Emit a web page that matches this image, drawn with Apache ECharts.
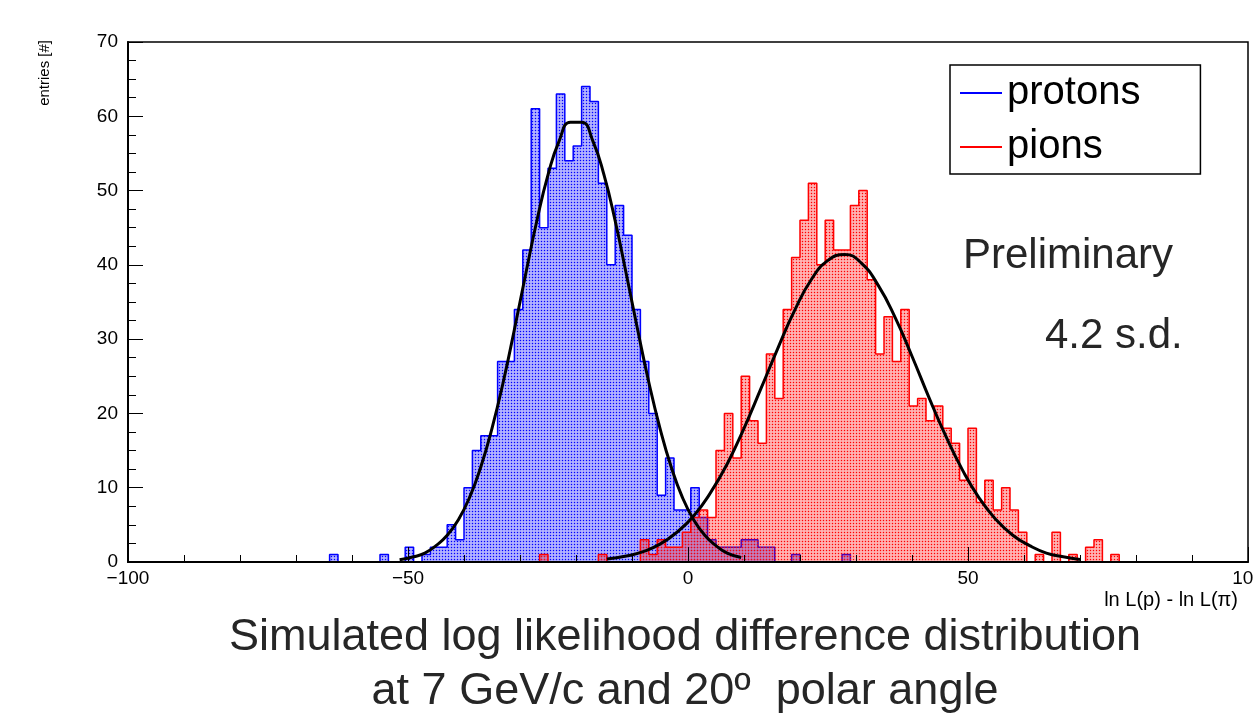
<!DOCTYPE html>
<html>
<head>
<meta charset="utf-8">
<script src="https://cdn.jsdelivr.net/npm/echarts@6/dist/echarts.min.js"></script>
<style>
  html, body { margin: 0; background: #fff; overflow: hidden; }
  #main { width: 1253px; height: 718px; }
</style>
</head>
<body>
<div id="main"></div>
<script>
// histogram binning (1.5 wide bins starting at -100)
const binWidth = 1.5;

// protons: counts per bin, first bin starts at -64
const protonStart = -64;
const protons = [1, 0, 0, 0, 0, 0, 1, 0, 0, 2, 0, 1, 2, 2, 5, 3, 10, 15, 17, 17,
  27, 27, 34, 42, 61, 45, 53, 63, 54, 56, 64, 62, 51, 40, 48, 44, 34, 27, 20, 9,
  14, 7, 7, 10, 6, 3, 2, 2, 2, 3, 3, 2, 2, 0, 0, 1, 0, 0, 0, 0, 0, 1];

// pions: counts per bin, first bin starts at -26.5
const pionStart = -26.5;
const pions = [1, 0, 0, 0, 0, 0, 0, 1, 0, 0, 0, 0, 3, 1, 3, 2, 2, 4, 6, 7,
  6, 15, 20, 14, 25, 19, 16, 28, 22, 34, 41, 46, 51, 40, 46, 42, 42, 48, 50, 38,
  28, 33, 27, 34, 21, 22, 19, 21, 18, 16, 11, 18, 8, 11, 7, 10, 7, 4, 0, 1,
  0, 4, 0, 1, 0, 2, 3, 0, 1];

// fitted curves
const protonFitX = [-51.5, -49, -47, -45, -43, -41, -39, -37, -35, -33, -31, -29, -27, -25, -23, -21,
  -19, -17, -15, -13, -11, -9, -7, -5, -3, -1, 1, 3, 5, 7, 9.5];
const protonFitY = [0.3, 0.7, 1.2, 2.2, 3.6, 5.7, 8.7, 12.8, 18.0, 24.2, 31.3, 38.7, 45.9, 52.1, 56.7, 59.2,
  59.2, 56.7, 52.1, 45.9, 38.7, 31.3, 24.2, 18.0, 12.8, 8.7, 5.7, 3.6, 2.2, 1.2, 0.6];

const pionFitX = [-14.5, -11, -8, -5, -2, 1, 4, 7, 10, 13, 16, 19, 22, 25, 28, 31, 34, 37, 40,
  43, 46, 49, 52, 55, 58, 61, 64, 67, 70];
const pionFitY = [0.4, 0.8, 1.4, 2.4, 4.0, 6.2, 9.3, 13.2, 18.0, 23.3, 28.7, 33.8, 38.0, 40.6, 41.4, 40.2,
  37.2, 32.9, 27.7, 22.2, 17.0, 12.4, 8.6, 5.7, 3.6, 2.2, 1.2, 0.7, 0.35];

const xTicks = [-100, -50, 0, 50, 100];
const yTicks = [0, 10, 20, 30, 40, 50, 60, 70];

function steps(start, counts) {
  const pts = [[start, 0]];
  counts.forEach((c, i) => pts.push([start + i * binWidth, c]));
  pts.push([start + counts.length * binWidth, 0]);
  return pts;
}

// ROOT style dotted fill (3001)
function dots(r, g, b) {
  const c = document.createElement("canvas");
  c.width = 3;
  c.height = 3;
  const ctx = c.getContext("2d");
  const img = ctx.createImageData(3, 3);
  const alpha = [0.3, 0.4, 0.3, 0.4, 1, 0.4, 0.3, 0.4, 0.3];
  alpha.forEach((a, i) => {
    img.data[i * 4] = r;
    img.data[i * 4 + 1] = g;
    img.data[i * 4 + 2] = b;
    img.data[i * 4 + 3] = Math.round(a * 255);
  });
  ctx.putImageData(img, 0, 0);
  return c;
}

const font = "Liberation Sans, Arial, Helvetica, sans-serif";
const chart = echarts.init(document.getElementById("main"), null, { width: 1253, height: 718 });

chart.setOption({
  animation: false,
  backgroundColor: "#fff",
  grid: {
    left: 128,
    right: 5,
    top: 42,
    bottom: 156,
    outerBoundsMode: "none",
    show: true,
    borderColor: "#000",
    borderWidth: 1.5,
  },
  legend: {
    data: ["protons", "pions"],
    orient: "vertical",
    left: 950,
    top: 65,
    padding: [8, 60, 7, 10],
    itemGap: 14,
    itemWidth: 42,
    itemHeight: 2,
    icon: "rect",
    backgroundColor: "#fff",
    borderColor: "#000",
    borderWidth: 1.5,
    textStyle: { fontFamily: font, fontSize: 40, color: "#000" },
  },
  xAxis: {
    type: "value",
    min: xTicks[0],
    max: xTicks[xTicks.length - 1],
    interval: 50,
    z: 10,
    axisLine: { onZero: false, lineStyle: { color: "#000", width: 2 } },
    axisTick: { inside: true, length: 15, lineStyle: { color: "#000" } },
    minorTick: { show: true, splitNumber: 5, length: 7, lineStyle: { color: "#000" } },
    splitLine: { show: false },
    axisLabel: {
      fontFamily: font,
      fontSize: 19,
      color: "#000",
      margin: 7,
      formatter: (v) => (v < 0 ? "\u2212" + Math.abs(v) : String(v)),
    },
    name: "ln L(p) - ln L(\u03c0)",
    nameLocation: "end",
    nameGap: -10,
    nameTextStyle: {
      fontFamily: font,
      fontSize: 20,
      color: "#000",
      align: "right",
      verticalAlign: "top",
      padding: [28, 0, 0, 0],
    },
  },
  yAxis: {
    type: "value",
    min: yTicks[0],
    max: yTicks[yTicks.length - 1],
    interval: 10,
    z: 10,
    axisLine: { show: true, onZero: false, lineStyle: { color: "#000", width: 2 } },
    axisTick: { show: true, inside: true, length: 15, lineStyle: { color: "#000" } },
    minorTick: { show: true, splitNumber: 4, length: 8, lineStyle: { color: "#000" } },
    splitLine: { show: false },
    axisLabel: { fontFamily: font, fontSize: 19, color: "#000", margin: 10 },
  },
  graphic: [
    {
      type: "text",
      x: 45,
      y: 40,
      rotation: Math.PI / 2,
      style: {
        text: "entries [#]",
        fontFamily: font,
        fontSize: 15,
        fill: "#000",
        textAlign: "right",
        textVerticalAlign: "middle",
      },
    },
    {
      type: "text",
      x: 963,
      y: 256,
      style: {
        text: "Preliminary",
        fontFamily: font,
        fontSize: 42,
        fill: "#262626",
        textVerticalAlign: "middle",
      },
    },
    {
      type: "text",
      x: 1045,
      y: 336,
      style: {
        text: "4.2 s.d.",
        fontFamily: font,
        fontSize: 42,
        fill: "#262626",
        textVerticalAlign: "middle",
      },
    },
    {
      type: "text",
      x: 685,
      y: 638,
      style: {
        text: "Simulated log likelihood difference distribution",
        fontFamily: font,
        fontSize: 45,
        fill: "#262626",
        textAlign: "center",
        textVerticalAlign: "middle",
      },
    },
    {
      type: "text",
      x: 685,
      y: 692,
      style: {
        text: "at 7 GeV/c and 20\u00ba  polar angle",
        fontFamily: font,
        fontSize: 45,
        fill: "#262626",
        textAlign: "center",
        textVerticalAlign: "middle",
      },
    },
  ],
  series: [
    {
      name: "protons",
      type: "line",
      step: "end",
      symbol: "none",
      data: steps(protonStart, protons),
      lineStyle: { color: "#0000ff", width: 1.5 },
      itemStyle: { color: "#0000ff" },
      areaStyle: { color: { image: dots(0, 0, 255), repeat: "repeat" }, opacity: 1 },
      z: 2,
    },
    {
      name: "pions",
      type: "line",
      step: "end",
      symbol: "none",
      data: steps(pionStart, pions),
      lineStyle: { color: "#ff0000", width: 1.5 },
      itemStyle: { color: "#ff0000" },
      areaStyle: { color: { image: dots(255, 0, 0), repeat: "repeat" }, opacity: 1 },
      z: 3,
    },
    {
      name: "protonFit",
      type: "line",
      smooth: true,
      symbol: "none",
      data: protonFitX.map((x, i) => [x, protonFitY[i]]),
      lineStyle: { color: "#000", width: 3 },
      z: 5,
    },
    {
      name: "pionFit",
      type: "line",
      smooth: true,
      symbol: "none",
      data: pionFitX.map((x, i) => [x, pionFitY[i]]),
      lineStyle: { color: "#000", width: 3 },
      z: 5,
    },
  ],
});
</script>
</body>
</html>
